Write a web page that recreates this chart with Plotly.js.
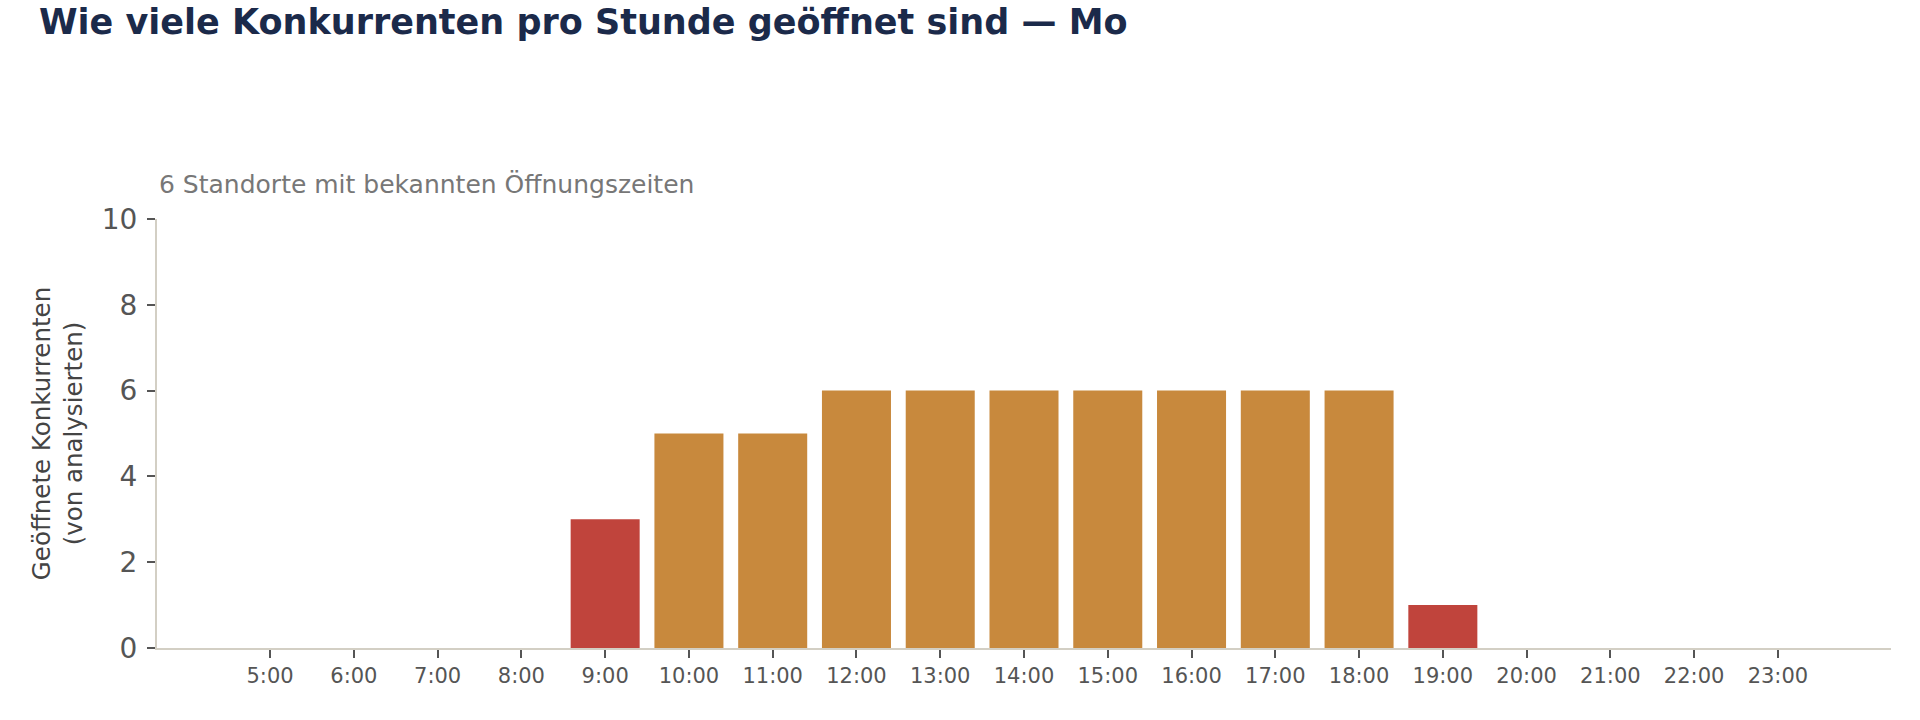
<!DOCTYPE html>
<html>
<head>
<meta charset="utf-8">
<script src="https://cdn.plot.ly/plotly-3.0.1.min.js"></script>
<style>
  html, body { margin: 0; padding: 0; background: #fff; }
  #chart { width: 1920px; height: 720px; }
</style>
</head>
<body>
<div id="chart"></div>
<script>
// Stunden (Montag) und Anzahl geöffneter Konkurrenten
const hours = ["5:00", "6:00", "7:00", "8:00", "9:00", "10:00", "11:00", "12:00", "13:00",
  "14:00", "15:00", "16:00", "17:00", "18:00", "19:00", "20:00", "21:00", "22:00", "23:00"];
const openCount = [0, 0, 0, 0, 3, 5, 5, 6, 6, 6, 6, 6, 6, 6, 1, 0, 0, 0, 0];
const totalKnown = 6;

const ORANGE = "#C8893D";
const RED = "#C0443C";

// half or fewer open -> red
const barColors = openCount.map(v => (v <= totalKnown / 2 ? RED : ORANGE));

const font = "DejaVu Sans, sans-serif";

Plotly.newPlot("chart", [
  {
    x: hours,
    y: openCount,
    type: "bar",
    marker: { color: barColors },
    hoverinfo: "x+y",
  },
], {
  width: 1920,
  height: 720,
  margin: { l: 157, r: 29, t: 219, b: 72 },
  paper_bgcolor: "#fff",
  plot_bgcolor: "#fff",
  font: { family: font, color: "#555" },
  showlegend: false,
  bargap: 0.176,
  title: {
    text: "<b>Wie viele Konkurrenten pro Stunde geöffnet sind — Mo</b>",
    font: { family: font, size: 35, color: "#1b2a4a" },
    x: 39 / 1920,
    xanchor: "left",
    xref: "container",
    y: 1 - 22 / 720,
    yanchor: "middle",
    yref: "container",
  },
  annotations: [
    {
      text: "6 Standorte mit bekannten Öffnungszeiten",
      xref: "paper", yref: "paper",
      x: 0, y: 1 + 35 / 429,
      xanchor: "left", yanchor: "middle",
      showarrow: false,
      font: { family: font, size: 25, color: "#777" },
    },
  ],
  xaxis: {
    type: "category",
    range: [-1.35, 19.35],
    showgrid: false,
    zeroline: false,
    showline: true,
    linecolor: "#d3cfc4",
    linewidth: 2,
    ticks: "outside",
    ticklen: 8,
    tickwidth: 2,
    tickcolor: "#555",
    tickfont: { family: font, size: 21, color: "#555" },
    fixedrange: true,
  },
  yaxis: {
    range: [0, 10],
    dtick: 2,
    showgrid: false,
    zeroline: false,
    showline: true,
    linecolor: "#d3cfc4",
    linewidth: 2,
    ticks: "outside",
    ticklen: 8,
    tickwidth: 2,
    tickcolor: "#555",
    ticklabelstandoff: 4,
    tickfont: { family: font, size: 28, color: "#555" },
    automargin: false,
    title: {
      text: "Geöffnete Konkurrenten<br>(von analysierten)",
      font: { family: font, size: 24.5, color: "#444" },
      standoff: 12,
    },
    fixedrange: true,
  },
}, { displayModeBar: false, staticPlot: true });
</script>
</body>
</html>
